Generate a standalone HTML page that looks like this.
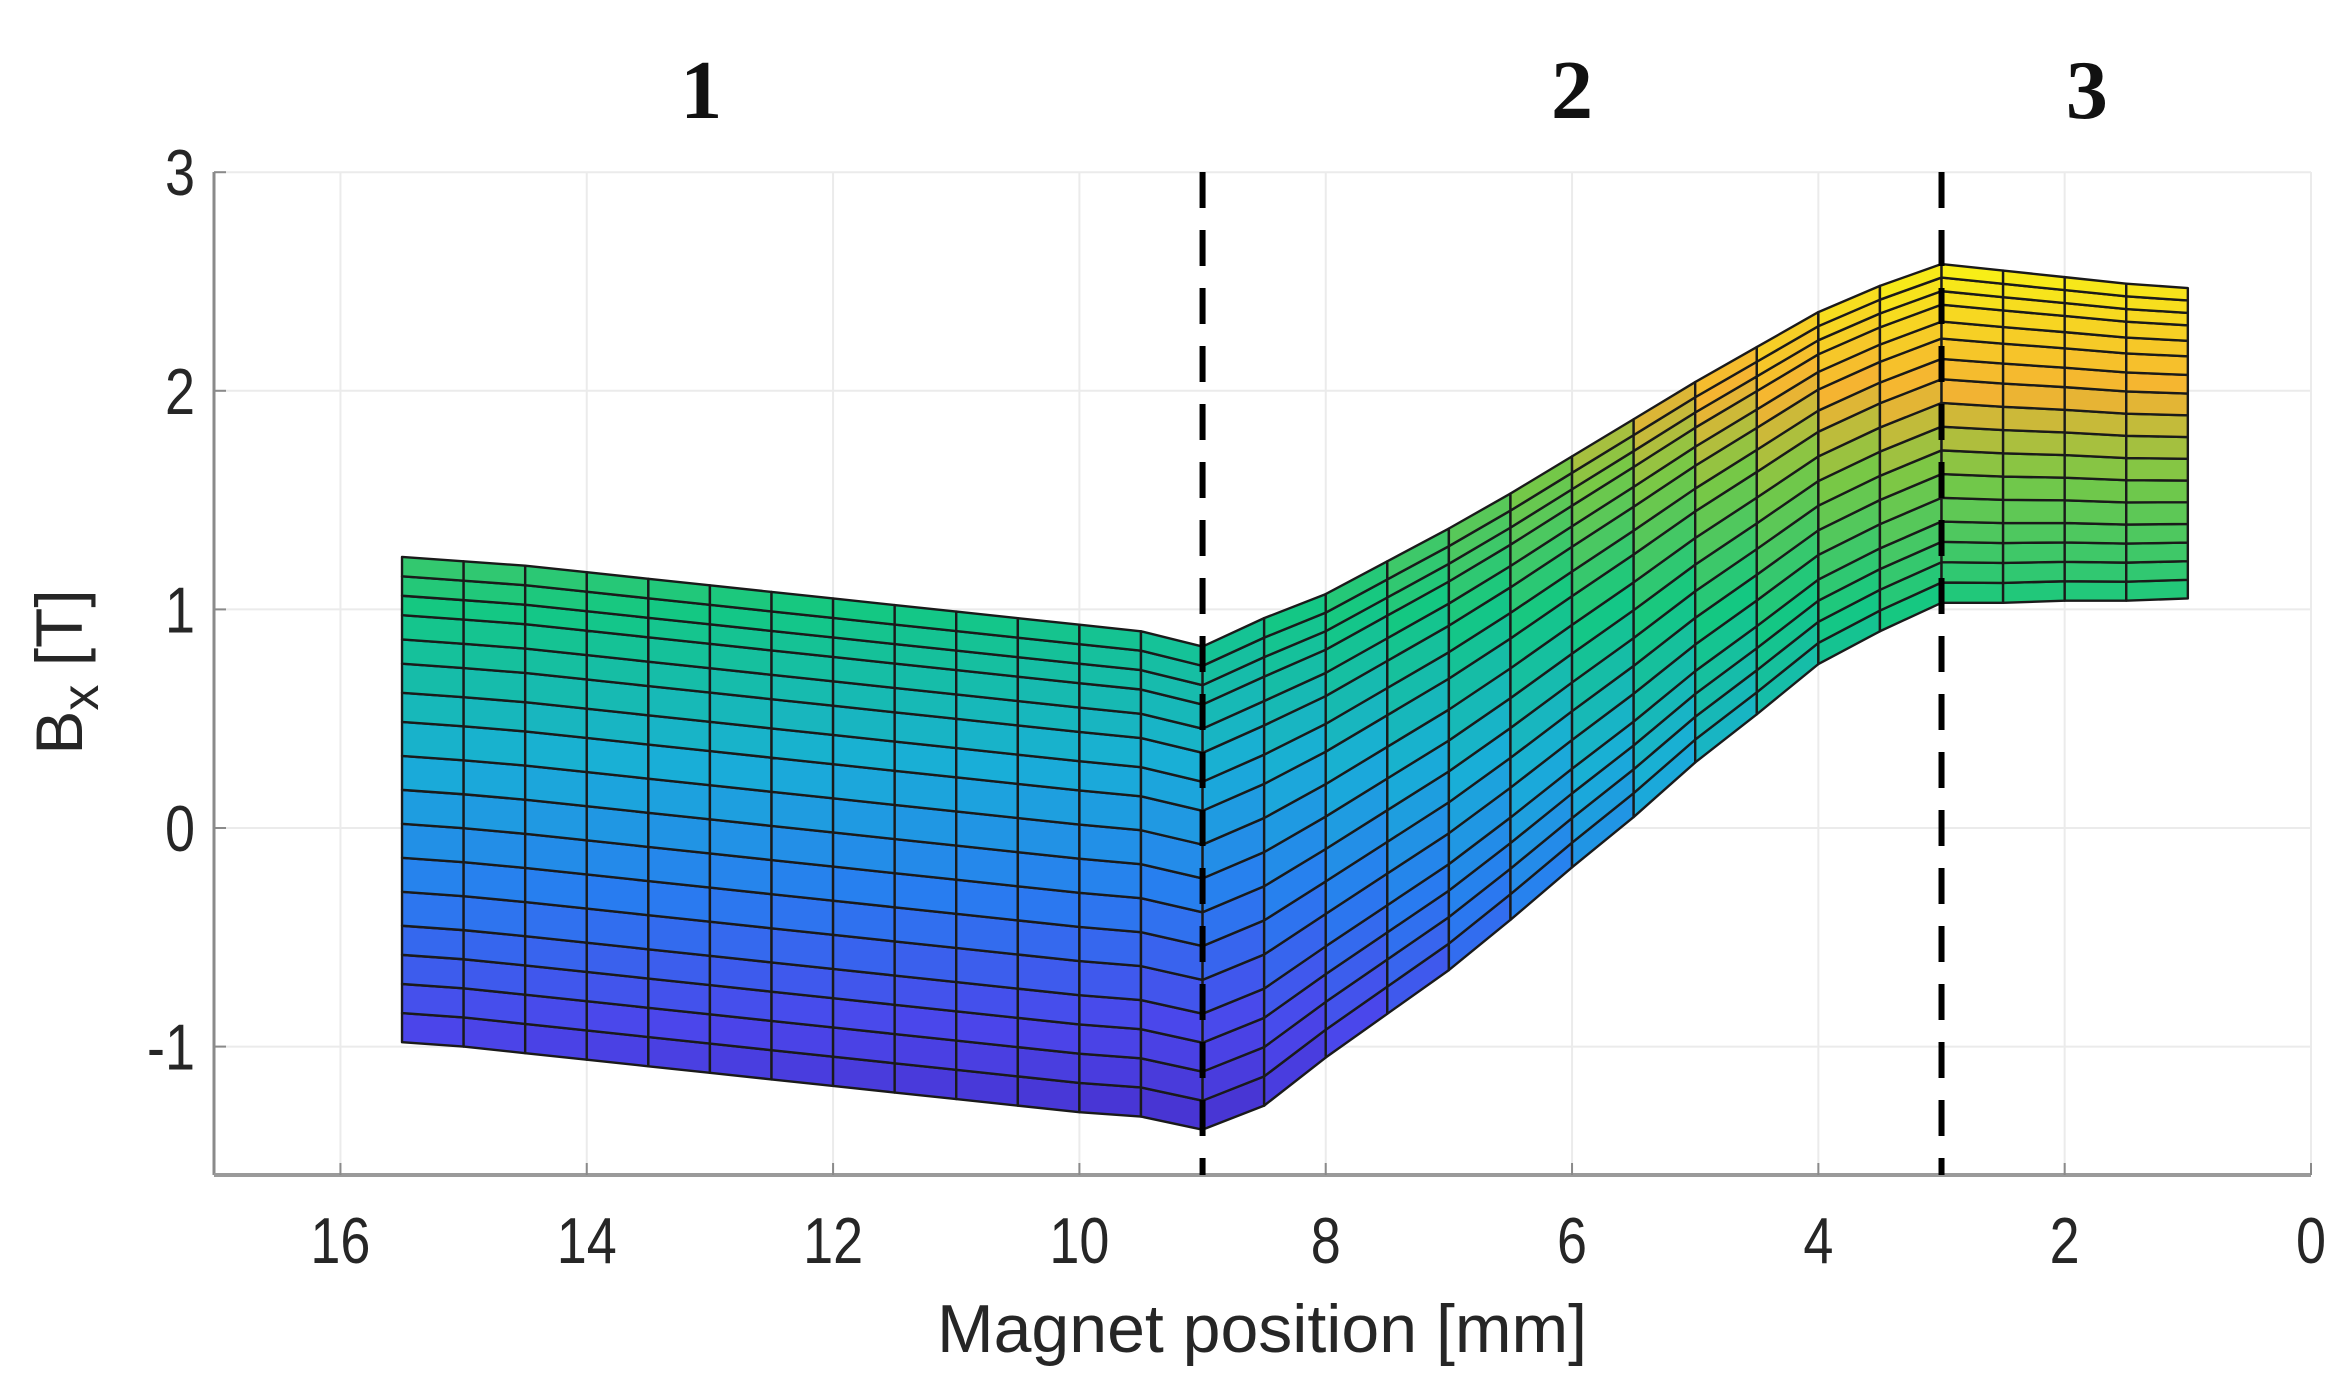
<!DOCTYPE html>
<html><head><meta charset="utf-8"><style>
html,body{margin:0;padding:0;background:#fff;}
svg{display:block;}
text{font-family:"Liberation Sans",sans-serif;}
</style></head><body>
<svg id="chart" width="2348" height="1400" viewBox="0 0 2348 1400" xmlns="http://www.w3.org/2000/svg">
<g id="grid"></g>
<g id="surface"></g>
<g id="axes"></g>
<g id="regions"></g>
</svg>
<script>
// ---- data ----
const xTicks = [16,14,12,10,8,6,4,2,0];
const yTicks = [3,2,1,0,-1];
const regionBounds = [9,3];
const regionLabels = ["1","2","3"];
const regionLabelX = [13.07,6,1.82];
const colX = [15.5,15,14.5,14,13.5,13,12.5,12,11.5,11,10.5,10,9.5,9,8.5,8,7.5,7,6.5,6,5.5,5,4.5,4,3.5,3,2.5,2,1.5,1];
const colTop = [1.24,1.22,1.2,1.17,1.14,1.11,1.08,1.05,1.02,0.99,0.96,0.93,0.9,0.83,0.96,1.07,1.22,1.37,1.53,1.7,1.87,2.04,2.2,2.36,2.48,2.58,2.55,2.52,2.49,2.47];
const colBot = [-0.98,-1.0,-1.03,-1.06,-1.09,-1.12,-1.15,-1.18,-1.21,-1.24,-1.27,-1.3,-1.32,-1.38,-1.27,-1.05,-0.85,-0.65,-0.42,-0.18,0.05,0.3,0.52,0.75,0.9,1.03,1.03,1.04,1.04,1.05];
const rowFrac = [0,0.06,0.12,0.18,0.24,0.31,0.38,0.45,0.52,0.59,0.66,0.72,0.78,0.83,0.88,0.92,0.96,1];
// ---- scales ----
const X0=2311, PX=123.16, Y0=828, PY=218.6;
const xs = v => X0 - v*PX;
const ys = v => Y0 - v*PY;
const L=214, R=2311, T=172, B=1175;
const NS="http://www.w3.org/2000/svg";
function mk(tag, parent, attrs){const e=document.createElementNS(NS,tag);for(const k in attrs)e.setAttribute(k,attrs[k]);parent.appendChild(e);return e;}
const grid=document.getElementById('grid'), surf=document.getElementById('surface'), axes=document.getElementById('axes'), reg=document.getElementById('regions');
for(const t of xTicks){const l=mk('line',grid,{x1:xs(t),x2:xs(t),y1:T,y2:B,stroke:'#ebebeb','stroke-width':2});

}
for(const t of yTicks){const l=mk('line',grid,{x1:L,x2:R,y1:ys(t),y2:ys(t),stroke:'#ebebeb','stroke-width':2});

}
mk('line',grid,{x1:R,x2:R,y1:T,y2:B,stroke:'#ebebeb','stroke-width':2});
// colormap (parula-like)
const cmapV=[-1.45,-0.9,-0.3,0.3,1.0,1.6,2.0,2.6];
const cmapC=[[70,45,200],[75,70,235],[40,125,240],[25,175,215],[20,200,130],[120,200,70],[245,178,50],[248,245,20]];
function col(v){if(v<=cmapV[0])return cmapC[0];for(let i=1;i<cmapV.length;i++){if(v<=cmapV[i]){const f=(v-cmapV[i-1])/(cmapV[i]-cmapV[i-1]);return cmapC[i-1].map((c,j)=>Math.round(c+(cmapC[i][j]-c)*f));}}return cmapC[cmapC.length-1];}
const val=(c,r)=>colBot[c]+(colTop[c]-colBot[c])*rowFrac[r];
for(let c=0;c<colX.length-1;c++){
  for(let r=0;r<rowFrac.length-1;r++){
    const v=(val(c,r)+val(c+1,r)+val(c,r+1)+val(c+1,r+1))/4;
    const rgb=col(v);
    const pts=[[xs(colX[c]),ys(val(c,r))],[xs(colX[c+1]),ys(val(c+1,r))],[xs(colX[c+1]),ys(val(c+1,r+1))],[xs(colX[c]),ys(val(c,r+1))]].map(p=>p.join(',')).join(' ');
    const p=mk('polygon',surf,{points:pts,fill:`rgb(${rgb})`,stroke:'#1a1a1a','stroke-width':2.4,'stroke-linejoin':'round'});
    
    
  }
}
// axes
mk('line',axes,{x1:L,x2:L,y1:T,y2:B,stroke:'#8a8a8a','stroke-width':3});
mk('line',axes,{x1:L,x2:R,y1:B,y2:B,stroke:'#9a9a9a','stroke-width':4});
for(const t of xTicks){const tx=mk('text',axes,{x:xs(t),y:1263,'font-size':65,fill:'#262626','text-anchor':'middle',transform:`translate(${xs(t)*0.17},0) scale(0.83,1)`});tx.textContent=t;


mk('line',axes,{x1:xs(t),x2:xs(t),y1:B,y2:B-12,stroke:'#8a8a8a','stroke-width':2});}
for(const t of yTicks){const tx=mk('text',axes,{x:195,y:ys(t)+23,'font-size':65,fill:'#262626','text-anchor':'end',transform:`translate(${195*0.17},0) scale(0.83,1)`});tx.textContent=t;


mk('line',axes,{x1:L,x2:L+12,y1:ys(t),y2:ys(t),stroke:'#8a8a8a','stroke-width':2});}
const xt=mk('text',axes,{x:1262,y:1352,'font-size':68,fill:'#262626','text-anchor':'middle'});xt.textContent='Magnet position [mm]';


const yt=mk('text',axes,{x:0,y:0,'font-size':66,fill:'#262626','text-anchor':'middle',transform:'translate(82,672) rotate(-90)'});
yt.innerHTML='B<tspan dy="16" font-size="52">x</tspan><tspan dy="-16"> [T]</tspan>';


// dashed region boundaries
for(const b of regionBounds){const l=mk('line',reg,{x1:xs(b),x2:xs(b),y1:T,y2:B,stroke:'#000','stroke-width':6,'stroke-dasharray':'36,22'});

}
regionLabels.forEach((s,i)=>{const tx=mk('text',reg,{x:xs(regionLabelX[i]),y:118,'font-size':84,'font-weight':'bold','text-anchor':'middle',fill:'#111',style:'font-family:"Liberation Serif",serif'});tx.textContent=s;

});
</script>
</body></html>
